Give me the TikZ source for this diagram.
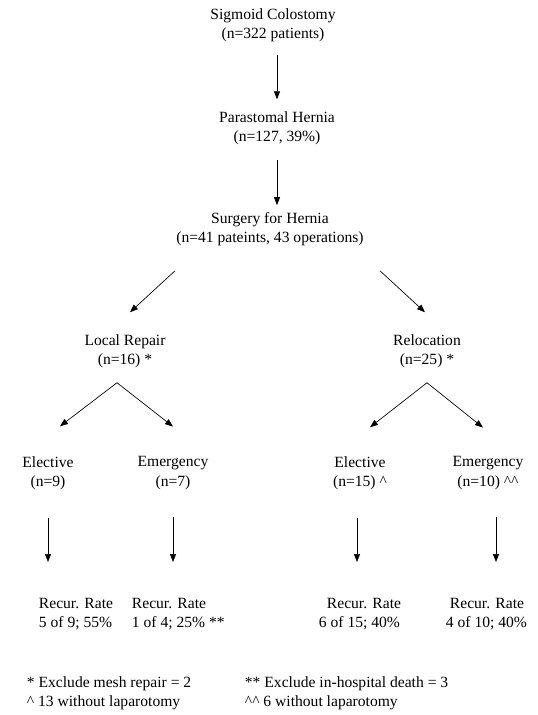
\documentclass[tikz,border=0pt]{standalone}
\usepackage{fontspec}
\setmainfont{Liberation Serif}
\usetikzlibrary{arrows.meta, calc}

\begin{document}
\begin{tikzpicture}[x=0.75pt, y=-0.75pt,
    entry/.style={align=center, font=\fontsize{11.7}{14.6}\selectfont, inner sep=2pt},
    note/.style={entry, align=left, anchor=west},
    flow/.style={-{Triangle[length=6pt, width=4.5pt]}, line width=0.5pt}
]
    \useasboundingbox (0,0) rectangle (537,715);

    % top chain
    \node[entry] (sigmoid) at (273,25) {Sigmoid Colostomy\\(n=322 patients)};
    \node[entry] (hernia) at (277,128) {Parastomal Hernia\\(n=127, 39\%)};
    \node[entry] (surgery) at (270,229) {Surgery for Hernia\\(n=41 pateints, 43 operations)};

    % two kinds of repair
    \node[entry] (local) at (125,351) {Local Repair\\(n=16) *};
    \node[entry] (reloc) at (427,351) {Relocation\\(n=25) *};

    \node[entry] (lelect) at (48,473) {Elective\\(n=9)};
    \node[entry] (lemerg) at (173,473) {Emergency\\(n=7)};
    \node[entry] (relect) at (360,473) {Elective\\(n=15) \textasciicircum};
    \node[entry] (remerg) at (488,473) {Emergency\\(n=10) \textasciicircum\textasciicircum};

    % recurrence
    \node[note] (rate1) at (36,614) {Recur. Rate\\5 of 9; 55\%};
    \node[note] (rate2) at (129,614) {Recur. Rate\\1 of 4; 25\% **};
    \node[note] (rate3) at (316,614) {\hspace*{6pt}Recur. Rate\\6 of 15; 40\%};
    \node[note] (rate4) at (443,614) {\hspace*{3pt}Recur. Rate\\4 of 10; 40\%};

    % footnotes
    \node[note] (foot1) at (24,693) {* Exclude mesh repair = 2\\\textasciicircum{} 13 without laparotomy};
    \node[note] (foot2) at (242,693) {** Exclude in-hospital death = 3\\\textasciicircum\textasciicircum{} 6 without laparotomy};

    \coordinate (lfork) at ($(local.south)+(-8,12)$);
    \coordinate (rfork) at ($(reloc.south)+(0,12)$);

    \draw[flow] ($(sigmoid.south -| hernia)+(0,10)$) -- ($(hernia.north)+(0,-9)$);
    \draw[flow] ($(hernia.south)+(0,12)$) -- ($(hernia.south |- surgery.north)+(0,-4)$);
    \draw[flow] ($(surgery.south)+(-95,22)$) -- ($(local.north)+(5,-19)$);
    \draw[flow] ($(surgery.south)+(110,22)$) -- ($(reloc.north)+(-2,-19)$);

    \draw[flow] (lfork) -- ($(lelect.north)+(12,-27)$);
    \draw[flow] (lfork) -- ($(lemerg.north)+(0,-27)$);
    \draw[flow] (rfork) -- ($(relect.north)+(10,-26)$);
    \draw[flow] (rfork) -- ($(remerg.north)+(-5,-26)$);

    \draw[flow] ($(lelect.south)+(0,25)$) -- ($(lelect.south |- rate1.north)+(0,-33)$);
    \draw[flow] ($(lemerg.south)+(0,25)$) -- ($(lemerg.south |- rate2.north)+(0,-33)$);
    \draw[flow] ($(relect.south)+(-3,25)$) -- ($(relect.south |- rate3.north)+(-3,-33)$);
    \draw[flow] ($(remerg.south)+(8,25)$) -- ($(remerg.south |- rate4.north)+(8,-33)$);
\end{tikzpicture}
\end{document}
